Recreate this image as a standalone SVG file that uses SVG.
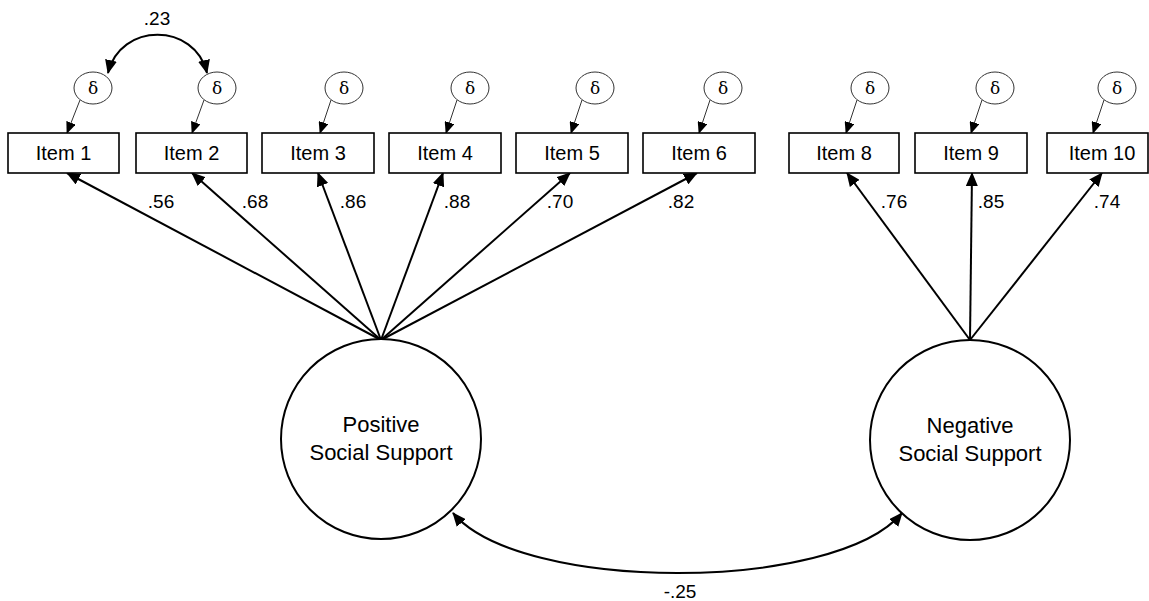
<svg xmlns="http://www.w3.org/2000/svg" width="1149" height="601" viewBox="0 0 1149 601">
<style>
text{font-family:"Liberation Sans",Arial,sans-serif;fill:#000}
.box{fill:#fff;stroke:#000;stroke-width:1.6}
.it{font-size:20px;text-anchor:middle}
.lbl{font-size:19px;text-anchor:middle}
.lat{font-size:22px;text-anchor:middle}
.err{fill:#fff;stroke:#333;stroke-width:1}
.d{font-size:17px;text-anchor:middle;font-family:"DejaVu Serif","Liberation Serif",serif}
.thin{stroke:#333;stroke-width:1;fill:none}
.thick{stroke:#000;stroke-width:2;fill:none}
.circ{fill:#fff;stroke:#000;stroke-width:2}
</style>
<defs>
<marker id="ah" markerUnits="userSpaceOnUse" markerWidth="14" markerHeight="12" viewBox="0 0 14 12" refX="13" refY="6" orient="auto-start-reverse"><path d="M0,0 L14,6 L0,12 Z" fill="#000"/></marker>
<marker id="as" markerUnits="userSpaceOnUse" markerWidth="12" markerHeight="10" viewBox="0 0 12 10" refX="11" refY="5" orient="auto"><path d="M0,0 L12,5 L0,10 Z" fill="#000"/></marker>
</defs>

<g id="connectors">
<line class="thin" x1="80" y1="100" x2="67" y2="133" marker-end="url(#as)"/>
<line class="thin" x1="204" y1="100" x2="192" y2="133" marker-end="url(#as)"/>
<line class="thin" x1="331" y1="100" x2="320" y2="133" marker-end="url(#as)"/>
<line class="thin" x1="457" y1="100" x2="446" y2="133" marker-end="url(#as)"/>
<line class="thin" x1="582" y1="100" x2="571" y2="133" marker-end="url(#as)"/>
<line class="thin" x1="710" y1="100" x2="699" y2="133" marker-end="url(#as)"/>
<line class="thin" x1="857" y1="100" x2="846" y2="133" marker-end="url(#as)"/>
<line class="thin" x1="982" y1="100" x2="971" y2="133" marker-end="url(#as)"/>
<line class="thin" x1="1104" y1="100" x2="1093" y2="133" marker-end="url(#as)"/>
<line class="thick" x1="381" y1="340" x2="67" y2="173" marker-end="url(#ah)"/>
<line class="thick" x1="381" y1="340" x2="192" y2="173" marker-end="url(#ah)"/>
<line class="thick" x1="381" y1="340" x2="318" y2="173" marker-end="url(#ah)"/>
<line class="thick" x1="381" y1="340" x2="443" y2="173" marker-end="url(#ah)"/>
<line class="thick" x1="381" y1="340" x2="570" y2="173" marker-end="url(#ah)"/>
<line class="thick" x1="381" y1="340" x2="697" y2="173" marker-end="url(#ah)"/>
<line class="thick" x1="970" y1="340" x2="847" y2="173" marker-end="url(#ah)"/>
<line class="thick" x1="970" y1="340" x2="972" y2="173" marker-end="url(#ah)"/>
<line class="thick" x1="970" y1="340" x2="1102" y2="173" marker-end="url(#ah)"/>
<path class="thick" d="M108,73 C120,22 195,22 207,73" marker-start="url(#ah)" marker-end="url(#ah)"/>
<path class="thick" d="M453,513 C520,593 835,593 902,513" marker-start="url(#ah)" marker-end="url(#ah)"/>
</g>

<g id="labels">
<text class="lbl" x="157" y="25">.23</text>
<text class="lbl" x="161" y="208">.56</text>
<text class="lbl" x="255" y="208">.68</text>
<text class="lbl" x="353" y="208">.86</text>
<text class="lbl" x="457" y="208">.88</text>
<text class="lbl" x="560" y="208">.70</text>
<text class="lbl" x="681" y="208">.82</text>
<text class="lbl" x="894" y="208">.76</text>
<text class="lbl" x="991" y="208">.85</text>
<text class="lbl" x="1107" y="208">.74</text>
<text class="lbl" x="680" y="598">-.25</text>
</g>

<g id="e1"><ellipse class="err" cx="93" cy="88" rx="19" ry="16"/><text class="d" x="93" y="94">δ</text></g>
<g id="e2"><ellipse class="err" cx="217" cy="88" rx="19" ry="16"/><text class="d" x="217" y="94">δ</text></g>
<g id="e3"><ellipse class="err" cx="344" cy="88" rx="19" ry="16"/><text class="d" x="344" y="94">δ</text></g>
<g id="e4"><ellipse class="err" cx="470" cy="88" rx="19" ry="16"/><text class="d" x="470" y="94">δ</text></g>
<g id="e5"><ellipse class="err" cx="595" cy="88" rx="19" ry="16"/><text class="d" x="595" y="94">δ</text></g>
<g id="e6"><ellipse class="err" cx="723" cy="88" rx="19" ry="16"/><text class="d" x="723" y="94">δ</text></g>
<g id="e8"><ellipse class="err" cx="870" cy="88" rx="19" ry="16"/><text class="d" x="870" y="94">δ</text></g>
<g id="e9"><ellipse class="err" cx="995" cy="88" rx="19" ry="16"/><text class="d" x="995" y="94">δ</text></g>
<g id="e10"><ellipse class="err" cx="1117" cy="88" rx="19" ry="16"/><text class="d" x="1117" y="94">δ</text></g>

<g id="item1"><rect class="box" x="8" y="133" width="111" height="40"/><text class="it" x="63.5" y="160">Item 1</text></g>
<g id="item2"><rect class="box" x="136" y="133" width="111" height="40"/><text class="it" x="191.5" y="160">Item 2</text></g>
<g id="item3"><rect class="box" x="262" y="133" width="112" height="40"/><text class="it" x="318" y="160">Item 3</text></g>
<g id="item4"><rect class="box" x="389" y="133" width="112" height="40"/><text class="it" x="445" y="160">Item 4</text></g>
<g id="item5"><rect class="box" x="516" y="133" width="112" height="40"/><text class="it" x="572" y="160">Item 5</text></g>
<g id="item6"><rect class="box" x="643" y="133" width="112" height="40"/><text class="it" x="699" y="160">Item 6</text></g>
<g id="item8"><rect class="box" x="789" y="133" width="110" height="40"/><text class="it" x="844" y="160">Item 8</text></g>
<g id="item9"><rect class="box" x="915" y="133" width="112" height="40"/><text class="it" x="971" y="160">Item 9</text></g>
<g id="item10"><rect class="box" x="1047" y="133" width="101" height="40"/><text class="it" x="1102" y="160">Item 10</text></g>

<g id="positive"><circle class="circ" cx="381" cy="439" r="100"/><text class="lat" x="381" y="432">Positive</text><text class="lat" x="381" y="460">Social Support</text></g>
<g id="negative"><circle class="circ" cx="970" cy="440" r="100"/><text class="lat" x="970" y="433">Negative</text><text class="lat" x="970" y="461">Social Support</text></g>
</svg>
